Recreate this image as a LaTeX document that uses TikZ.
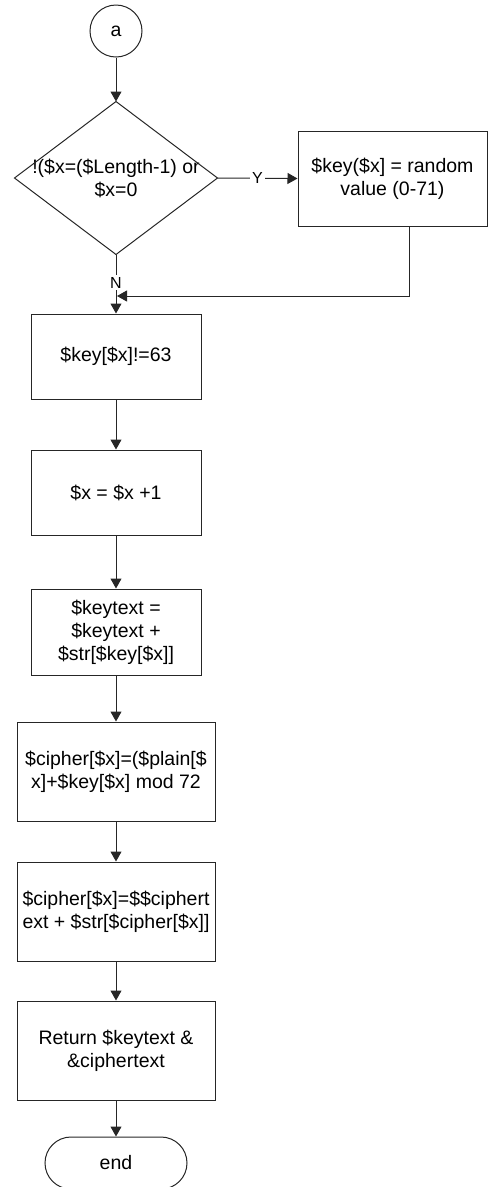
\documentclass[tikz,border=0pt]{standalone}
\usepackage{fontspec}
\setmainfont{Liberation Sans}
\usetikzlibrary{arrows.meta}
\begin{document}
\begin{tikzpicture}[x=1pt,y=-1pt,
  line width=1pt,
  every node/.style={font=\fontsize{19.5}{23}\selectfont, inner sep=0pt, align=center, text=black},
  proc/.style={draw=black!85, rectangle},
  arr/.style={draw=black!85, -{Triangle[length=10pt,width=11pt]}},
  lbl/.style={fill=white, inner sep=2pt, font=\fontsize{16}{18}\selectfont}]
\useasboundingbox (0,0) rectangle (491,1187);
\clip (0,0) rectangle (491,1187);
\node[draw=black!85, circle, minimum size=52pt] (a) at (116,31) {a};
\node[minimum width=202pt, minimum height=152pt] (dec) at (116,178) {!(\$x=(\$Length-1) or\\\$x=0};
\draw[black!85] (dec.north) -- (dec.east) -- (dec.south) -- (dec.west) -- cycle;
\node[proc, minimum width=189pt, minimum height=95pt] (rnd) at (392.5,178.5) {\$key(\$x] = random\\value (0-71)};
\node[proc, minimum width=170pt, minimum height=85pt] (b1) at (116,356.5) {\$key[\$x]!=63};
\node[proc, minimum width=170pt, minimum height=85pt] (b2) at (116,492.5) {\$x = \$x +1};
\node[proc, minimum width=170pt, minimum height=86pt] (b3) at (116,632) {\$keytext =\\\$keytext +\\\$str[\$key[\$x]]};
\node[proc, minimum width=198pt, minimum height=99pt] (b4) at (116,771.5) {\$cipher[\$x]=(\$plain[\$\\x]+\$key[\$x] mod 72};
\node[proc, minimum width=198pt, minimum height=99pt] (b5) at (116,911.5) {\$cipher[\$x]=\$\$ciphert\\ext + \$str[\$cipher[\$x]]};
\node[proc, minimum width=198pt, minimum height=99pt] (b6) at (116,1050.5) {Return \$keytext \&\\\&ciphertext};
\node[draw=black!85, rectangle, rounded corners=26pt, minimum width=142pt, minimum height=52pt] (end) at (116,1163) {end};
\coordinate (m) at (117,296);
\draw[arr] (a) -- (dec.north);
\draw[arr] (dec.east) -- node[lbl]{Y} (rnd.west);
\draw[arr] (dec.south) -- node[lbl, pos=0.48]{N} (b1.north);
\draw[arr] ([xshift=16.5pt]rnd.south) |- (m);
\draw[arr] (b1) -- (b2);
\draw[arr] (b2) -- (b3);
\draw[arr] (b3) -- (b4);
\draw[arr] (b4) -- (b5);
\draw[arr] (b5) -- (b6);
\draw[arr] (b6) -- (end);
\end{tikzpicture}
\end{document}
